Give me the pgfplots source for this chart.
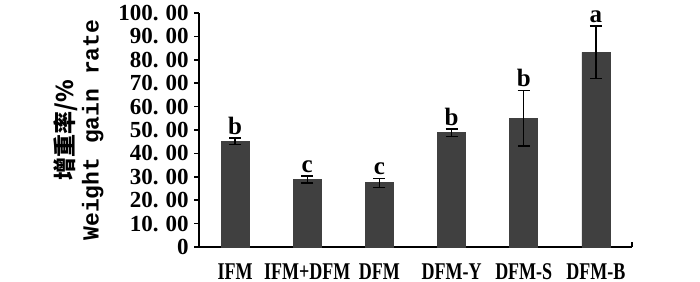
\documentclass[border=0pt]{standalone}
\usepackage{fontspec}
\setmainfont{Liberation Serif}
\newfontfamily\cjk{Noto Sans CJK SC}
\newfontfamily\mono{Liberation Mono}
\newfontfamily\cond[FakeStretch=0.75]{Liberation Serif}
\usepackage{pgfplots}
\pgfplotsset{compat=1.18}
\definecolor{barc}{RGB}{64,64,64}
\newcommand{\yl}[1]{#1.\hspace{0.3em}00}
\begin{document}
\begin{tikzpicture}
\path[use as bounding box] (-99.5pt,-17pt) rectangle (250.5pt,123.5pt);
\begin{axis}[
  scale only axis, width=216.5pt, height=117pt,
  xmin=-0.5, xmax=5.5, ymin=0, ymax=100,
  axis x line*=bottom, axis y line*=left,
  axis line style={line width=0.8pt, -},
  ytick={0,10,...,100},
  yticklabels={0,\yl{10},\yl{20},\yl{30},\yl{40},\yl{50},\yl{60},\yl{70},\yl{80},\yl{90},\yl{100}},
  xtick={0,1,2,3,4,5},
  xticklabels={IFM,IFM+DFM,DFM,DFM-Y,DFM-S,DFM-B},
  x tick style={draw=none},
  y tick style={line width=0.8pt, black},
  tick align=outside, major tick length=2.5pt,
  yticklabel style={font=\fontsize{11.5}{12}\selectfont\bfseries, inner xsep=2.5pt},
  xticklabel style={font=\cond\fontsize{12}{13}\selectfont\bfseries, inner xsep=0pt, inner ysep=1pt, yshift=-4.5pt},
  extra x ticks={5.5}, extra x tick labels={},
  extra x tick style={x tick style={draw=black, line width=0.8pt}, tick align=inside, major tick length=2.5pt},
  ylabel={{\cjk\bfseries 增重率/\%}\\{\mono\bfseries Weight gain rate}},
  ylabel style={at={(axis description cs:-0.278,0.5)}, anchor=center, align=center, font=\fontsize{11.5}{12.5}\selectfont},
  clip=false,
]
\addplot[ybar, bar width=14pt, fill=barc, draw=barc,
  error bars/.cd, y dir=both, y explicit,
  error bar style={black, line width=0.7pt},
  error mark options={rotate=90, black, mark size=3pt, line width=0.7pt}]
  coordinates {
  (0,45.2) +- (0,1.4)
  (1,28.9) +- (0,1.5)
  (2,27.4) +- (0,2.0)
  (3,48.8) +- (0,1.6)
  (4,55.0) +- (0,11.9)
  (5,83.2) +- (0,11.2)
  };
\addplot[draw=none, mark=none, nodes near coords, point meta=explicit symbolic,
  nodes near coords style={anchor=south, inner sep=1.5pt, font=\fontsize{12.5}{13}\selectfont\bfseries, black}]
  coordinates {
  (0,46.6) [b]
  (1,30.4) [c]
  (2,29.4) [c]
  (3,50.4) [b]
  (4,66.9) [b]
  (5,94.4) [a]
  };
\end{axis}
\end{tikzpicture}
\end{document}
